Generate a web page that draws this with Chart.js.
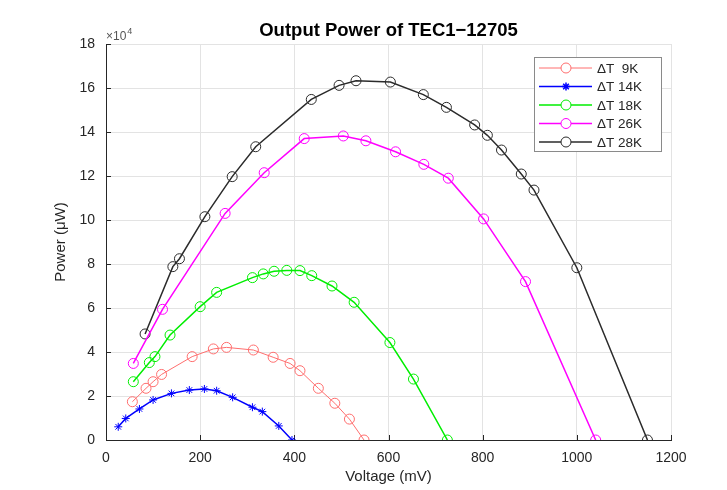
<!DOCTYPE html>
<html>
<head>
<meta charset="utf-8">
<title>Output Power of TEC1-12705</title>
<script src="https://cdn.jsdelivr.net/npm/chart.js@4.4.1/dist/chart.umd.min.js"></script>
<style>
  html, body { margin: 0; padding: 0; background: #fff; }
  #wrap { width: 727px; height: 490px; }
</style>
</head>
<body>
<div id="wrap"><canvas id="grafico" width="727" height="490"></canvas></div>
<script>
// Dados (tensão em mV, potência em µW)
const v9 = [56, 85, 100, 118, 183, 228, 256, 313, 355, 391, 412, 451, 486, 517, 548];
const p9 = [17400, 23500, 26500, 29800, 37900, 41400, 42100, 40900, 37600, 34800, 31500, 23500, 16700, 9500, 0];

const v14 = [26, 42, 71, 100, 139, 177, 209, 235, 269, 311, 332, 367, 395];
const p14 = [6000, 9800, 14100, 18200, 21200, 22700, 23200, 22400, 19400, 14900, 12900, 6400, 0];

const v18 = [58, 92, 104, 136, 200, 235, 311, 334, 357, 384, 412, 437, 480, 527, 603, 653, 725];
const p18 = [26500, 35200, 37900, 47700, 60600, 67100, 73800, 75500, 76700, 77100, 77000, 74700, 70000, 62600, 44300, 27700, 0];

const v26 = [58, 120, 253, 336, 421, 504, 552, 615, 675, 727, 802, 891, 1040];
const p26 = [34800, 59400, 103000, 121500, 137000, 138200, 136000, 131000, 125300, 119000, 100500, 72000, 0];

const v28 = [83, 142, 156, 210, 268, 318, 436, 495, 531, 604, 674, 723, 783, 810, 840, 882, 909, 1000, 1150];
const p28 = [48200, 78800, 82400, 101500, 119700, 133300, 154800, 161200, 163300, 162700, 157000, 151200, 143200, 138500, 131800, 120900, 113600, 78300, 0];

const rotulos = ['\u0394T  9K', '\u0394T 14K', '\u0394T 18K', '\u0394T 26K', '\u0394T 28K'];
const xTicks = [0, 200, 400, 600, 800, 1000, 1200];
const yTicks = [0, 20000, 40000, 60000, 80000, 100000, 120000, 140000, 160000, 180000];

const FONTE = "'Liberation Sans', Arial, Helvetica, sans-serif";
const COR_EIXO = '#262626';

function pontos(xs, ys) {
    return xs.map((x, i) => ({ x: x, y: ys[i] }));
}

function serie(label, xs, ys, cor, estilo, raio, largura) {
    return {
        label: label,
        data: pontos(xs, ys),
        borderColor: cor,
        backgroundColor: cor,
        borderWidth: largura,
        pointStyle: estilo,
        pointRadius: raio,
        pointHoverRadius: raio,
        pointBorderWidth: 1,
        pointBorderColor: cor,
        pointBackgroundColor: 'rgba(0,0,0,0)',
        tension: 0,
        fill: false
    };
}

// ticks para dentro, como no MATLAB
const ticksInternos = {
    id: 'ticksInternos',
    beforeDatasetsDraw(chart) {
        const ctx = chart.ctx;
        const { x, y } = chart.scales;
        const area = chart.chartArea;
        ctx.save();
        ctx.strokeStyle = COR_EIXO;
        ctx.lineWidth = 1;
        ctx.beginPath();
        yTicks.forEach(v => {
            const py = Math.round(y.getPixelForValue(v)) + 0.5;
            ctx.moveTo(area.left, py);
            ctx.lineTo(area.left + 5, py);
        });
        xTicks.forEach(v => {
            const px = Math.round(x.getPixelForValue(v)) + 0.5;
            ctx.moveTo(px, area.bottom);
            ctx.lineTo(px, area.bottom - 5);
        });
        ctx.stroke();
        ctx.restore();
    },
    afterDraw(chart) {
        // multiplicador do eixo y
        const ctx = chart.ctx;
        const area = chart.chartArea;
        ctx.save();
        ctx.fillStyle = '#555';
        ctx.textBaseline = 'alphabetic';
        ctx.font = '12px ' + FONTE;
        ctx.fillText('\u00d710', area.left, area.top - 4);
        const w = ctx.measureText('\u00d710').width;
        ctx.font = '9px ' + FONTE;
        ctx.fillText('4', area.left + w + 1, area.top - 10);
        ctx.restore();
    }
};

// legenda no canto superior direito
const legendaMatlab = {
    id: 'legendaMatlab',
    afterDraw(chart) {
        const ctx = chart.ctx;
        const bx = 534, by = 57, bw = 127, bh = 94;
        ctx.save();
        ctx.fillStyle = '#fff';
        ctx.fillRect(bx, by, bw, bh);
        ctx.strokeStyle = '#8a8a8a';
        ctx.lineWidth = 1;
        ctx.strokeRect(bx + 0.5, by + 0.5, bw, bh);
        chart.data.datasets.forEach((ds, i) => {
            const yy = by + 11 + i * 18.5;
            ctx.strokeStyle = ds.borderColor;
            ctx.lineWidth = ds.borderWidth;
            ctx.beginPath();
            ctx.moveTo(bx + 5, yy);
            ctx.lineTo(bx + 58, yy);
            ctx.stroke();
            ctx.fillStyle = ds.pointStyle === 'star' ? ds.borderColor : '#fff';
            ctx.lineWidth = ds.pointStyle === 'star' ? 1.5 : 1;
            Chart.helpers.drawPoint(ctx, {
                pointStyle: ds.pointStyle,
                radius: ds.pointRadius,
                borderWidth: 1
            }, bx + 32, yy);
            ctx.fillStyle = COR_EIXO;
            ctx.font = '13.5px ' + FONTE;
            ctx.textBaseline = 'middle';
            ctx.textAlign = 'left';
            ctx.fillText(ds.label, bx + 63, yy + 1);
        });
        ctx.restore();
    }
};

new Chart(document.getElementById('grafico'), {
    type: 'line',
    data: {
        datasets: [
            serie(rotulos[0], v9, p9, '#ff6e6e', 'circle', 5, 1),
            serie(rotulos[1], v14, p14, '#0000ff', 'star', 4, 1.5),
            serie(rotulos[2], v18, p18, '#00ee00', 'circle', 5, 1.5),
            serie(rotulos[3], v26, p26, '#ff00ff', 'circle', 5, 1.5),
            serie(rotulos[4], v28, p28, '#2b2b2b', 'circle', 5, 1.5)
        ]
    },
    options: {
        responsive: false,
        animation: false,
        layout: { padding: { left: 0, right: 56, top: 0, bottom: 0 } },
        plugins: {
            legend: { display: false },
            tooltip: { enabled: false },
            title: {
                display: true,
                text: 'Output Power of TEC1\u221212705',
                color: '#000',
                fullSize: false,
                font: { family: FONTE, size: 18.5, weight: 'bold' },
                padding: { top: 20, bottom: 1.8 }
            }
        },
        scales: {
            x: {
                type: 'linear',
                min: 0,
                max: 1200,
                afterFit: s => { s.height = 50; },
                afterBuildTicks: s => { s.ticks = xTicks.map(v => ({ value: v })); },
                grid: { color: '#e3e3e3', drawTicks: false },
                border: { color: COR_EIXO, width: 1 },
                ticks: {
                    padding: 10,
                    color: COR_EIXO,
                    maxRotation: 0,
                    font: { family: FONTE, size: 14 },
                    callback: v => String(v)
                },
                title: {
                    display: true,
                    text: 'Voltage (mV)',
                    color: COR_EIXO,
                    font: { family: FONTE, size: 15 },
                    padding: { top: 0, bottom: 4 }
                }
            },
            y: {
                type: 'linear',
                min: 0,
                max: 180000,
                afterFit: s => { s.width = 106; },
                afterBuildTicks: s => { s.ticks = yTicks.map(v => ({ value: v })); },
                grid: { color: '#e3e3e3', drawTicks: false },
                border: { color: COR_EIXO, width: 1 },
                ticks: {
                    padding: 11,
                    color: COR_EIXO,
                    font: { family: FONTE, size: 14 },
                    callback: v => String(v / 10000)
                },
                title: {
                    display: true,
                    text: 'Power (\u03bcW)',
                    color: COR_EIXO,
                    font: { family: FONTE, size: 15 },
                    padding: { top: 52, bottom: 0 }
                }
            }
        }
    },
    plugins: [ticksInternos, legendaMatlab]
});
</script>
</body>
</html>
